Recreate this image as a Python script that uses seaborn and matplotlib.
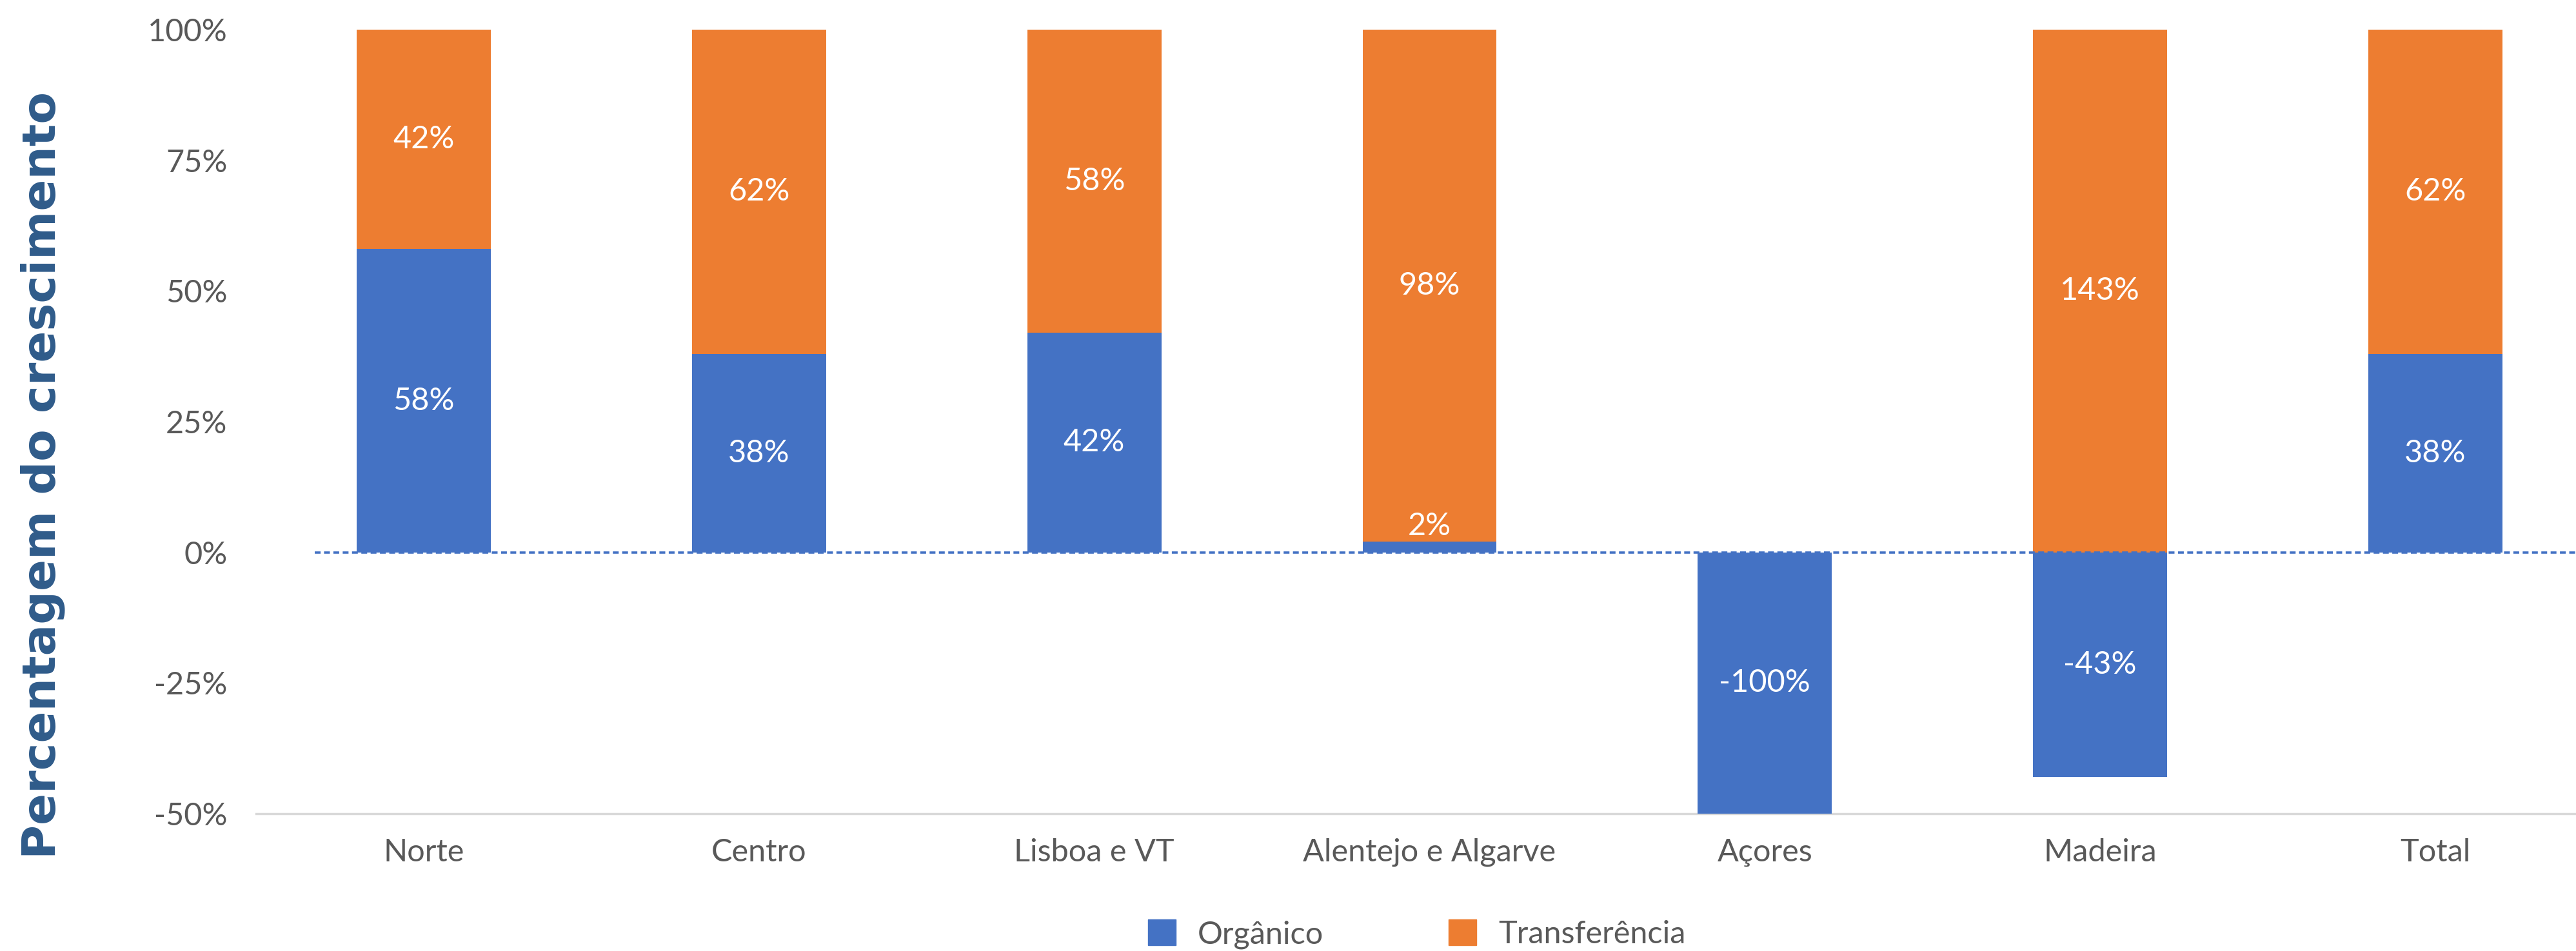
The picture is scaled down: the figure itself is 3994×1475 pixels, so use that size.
import numpy as np
import pandas as pd
import matplotlib
matplotlib.use("Agg")
import matplotlib.pyplot as plt
from matplotlib.patches import Patch
import seaborn as sns

# ─── Data ─────────────────────────────────────────────────────────────────────
regions = ["Norte", "Centro", "Lisboa e VT", "Alentejo e Algarve",
           "Açores", "Madeira", "Total"]
organico = [0.58, 0.38, 0.42, 0.02, -1.00, -0.43, 0.38]
transferencia = [0.42, 0.62, 0.58, 0.98, np.nan, 1.43, 0.62]

BLUE = "#4472C4"
ORANGE = "#ED7D31"
GREY = "#595959"
YMIN, YMAX = -0.5, 1.0

df = pd.DataFrame({"regiao": regions, "org": organico, "trf": transferencia})
# Excel-style stacking: positives stack upward, negatives downward
df["pos_top"] = df["org"].clip(lower=0) + df["trf"].fillna(0)
df.loc[df["trf"].isna(), "pos_top"] = np.nan

sns.set_theme(style="white")
plt.rcParams["font.family"] = ["Lato", "DejaVu Sans"]

fig = plt.figure(figsize=(39.94, 14.75), dpi=100)
ax = fig.add_axes([0.0994, 0.1444, 0.9111, 0.8244])

sns.barplot(data=df, x="regiao", y="pos_top", color=ORANGE, saturation=1,
            width=0.4, order=regions, ax=ax, zorder=2, linewidth=0)
sns.barplot(data=df, x="regiao", y="org", color=BLUE, saturation=1,
            width=0.4, order=regions, ax=ax, zorder=3, linewidth=0)

ax.set_ylim(YMIN, YMAX)
ax.set_xlim(-0.5, 6.5)

# dashed zero line
ax.hlines(0, -0.325, 7, colors=BLUE, linestyles=(0, (2.5, 1.5)), lw=2.6, zorder=4)


def seg_label(x, lo, hi, val):
    lo_c, hi_c = max(lo, YMIN), min(hi, YMAX)
    if hi_c - lo_c < 0.06:
        # tiny segment: label sits on top of it
        ax.text(x, hi_c + 0.003, f"{val * 100:.0f}%", ha="center",
                va="bottom", color="white", fontsize=35, zorder=5)
        return
    ax.text(x, (lo_c + hi_c) / 2, f"{val * 100:.0f}%", ha="center",
            va="center", color="white", fontsize=35, zorder=5)


for i, r in df.iterrows():
    o, t = r["org"], r["trf"]
    if o >= 0:
        seg_label(i, 0, o, o)
        if not np.isnan(t):
            seg_label(i, o, o + t, t)
    else:
        seg_label(i, o, 0, o)
        if not np.isnan(t):
            seg_label(i, 0, t, t)

ax.set_yticks([-0.5, -0.25, 0, 0.25, 0.5, 0.75, 1.0])
ax.set_yticklabels([f"{v * 100:.0f}%" for v in ax.get_yticks()])
ax.tick_params(axis="y", length=0, pad=32, labelsize=35, labelcolor=GREY)
ax.tick_params(axis="x", length=0, pad=27, labelsize=35, labelcolor=GREY)
ax.set_xlabel("")
ax.set_ylabel("")

for s in ("top", "right", "left"):
    ax.spines[s].set_visible(False)
ax.spines["bottom"].set_color("#D9D9D9")
ax.spines["bottom"].set_linewidth(2.5)

fig.text(0.0165, 0.5, "Percentagem do crescimento", rotation=90,
         ha="center", va="center", fontsize=52, fontweight="bold",
         color="#2F5B8A", family="DejaVu Sans")

handles = [Patch(color=BLUE, label="Orgânico"),
           Patch(color=ORANGE, label="Transferência")]
fig.legend(handles=handles, loc="center", bbox_to_anchor=(0.55, 0.0176),
           ncol=2, frameon=False, fontsize=35, handlelength=0.88,
           handleheight=0.88, handletextpad=0.7, columnspacing=4.0,
           labelcolor=GREY)

fig.savefig("out.png", dpi=100)
